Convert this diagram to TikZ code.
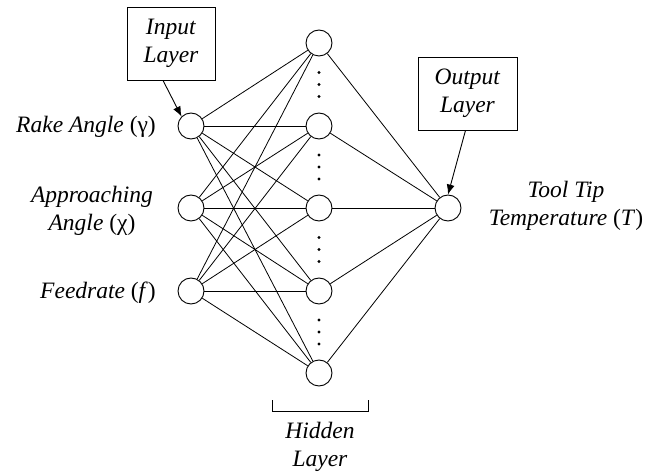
\documentclass[tikz,border=0pt]{standalone}
\usepackage{fontspec}
\setmainfont{Liberation Serif}
\usetikzlibrary{arrows.meta}

\begin{document}
\begin{tikzpicture}[x = 1pt , y = -1pt ,
    neuron/.style = {draw , circle , fill = white , minimum size = 26pt , inner sep = 0pt , line width = 0.9pt},
    layerbox/.style = {draw , align = center , minimum height = 73pt , inner sep = 0pt , line width = 0.9pt},
    lbl/.style = {align = center , inner sep = 0pt , font = \fontsize{23.5}{28}\selectfont},
    link/.style = {line width = 0.8pt},
    pointer/.style = {line width = 0.9pt , -{Latex[length = 10pt , width = 8pt]}}]
    \useasboundingbox (0,0) rectangle (654,473);

    % Νευρώνες
    \foreach \i/\y in {1/126, 2/208, 3/291}
        \node[neuron] (in\i) at (191,\y) {};
    \foreach \j/\y in {1/43, 2/126, 3/208, 4/291, 5/373}
        \node[neuron] (hid\j) at (319,\y) {};
    \node[neuron] (out) at (448,208) {};

    % Συνδέσεις
    \foreach \i in {1,2,3}
        \foreach \j in {1,...,5}
            \draw[link] (in\i) -- (hid\j);
    \foreach \j in {1,...,5}
        \draw[link] (hid\j) -- (out);

    % Τελείες
    \foreach \y in {84.5, 167, 249.5, 332}
        \foreach \d in {-12, 0, 12}
            \fill[black] (319,\y+\d) circle (1.6pt);

    % Ετικέτες
    \node[lbl , anchor = east] (rake) at (156,127) {\textit{Rake Angle} (γ)};
    \node[lbl] (appr) at (92,211) {\textit{Approaching}\\\textit{Angle} (χ)};
    \node[lbl , anchor = east] (feed) at (156,293) {\textit{Feedrate} (\textit{f})};
    \node[lbl] (temp) at (566,206) {\textit{Tool Tip}\\\textit{Temperature} (\textit{T})};

    % Πλαίσια
    \node[layerbox , lbl , minimum width = 88pt] (inbox) at (171,43.5) {\textit{Input}\\\textit{Layer}};
    \node[layerbox , lbl , minimum width = 99pt] (outbox) at (467.5,93.5) {\textit{Output}\\\textit{Layer}};
    \draw[pointer] (inbox.south) ++(-8,0) coordinate (inA) -- (in1.north west);
    \draw[pointer] (outbox.south) ++(-2,0) coordinate (outA) -- (out.north);

    % Αγκύλη κρυφού επιπέδου
    \draw[line width = 1pt] (272,400) -- (272,411) -- (368,411) -- (368,400);
    \node[lbl] (hidlbl) at (320,447) {\textit{Hidden}\\\textit{Layer}};
\end{tikzpicture}
\end{document}
